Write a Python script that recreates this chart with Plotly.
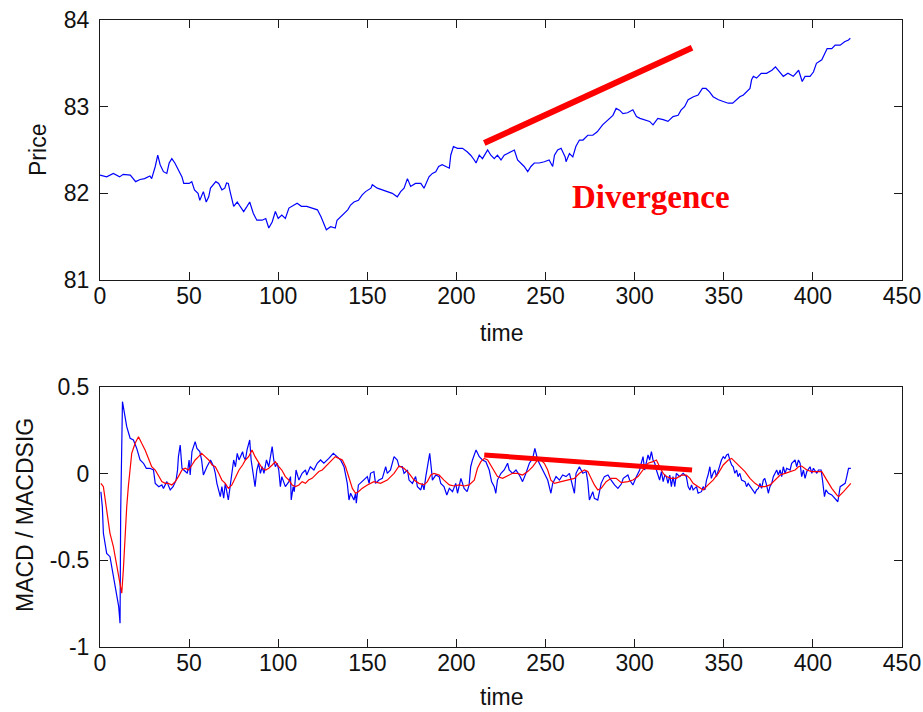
import plotly.graph_objects as go

# ---------------- data ----------------
# closing price, sampled as (time, price)
price_points = [
    (0, 82.21), (3.75, 82.19), (7.5, 82.23), (11, 82.19), (13, 82.22), (17, 82.21),
    (20, 82.135), (22.5, 82.16), (25, 82.17), (28, 82.2), (29, 82.17), (31, 82.31),
    (32.4, 82.44), (33.75, 82.33), (35.6, 82.25), (37.5, 82.23), (38.8, 82.35),
    (40.3, 82.40), (42, 82.35), (44, 82.27), (46, 82.19), (47, 82.115), (50, 82.115),
    (51.5, 82.135), (53, 82.04), (55, 82.0), (56, 81.92), (58, 82.02), (59.6, 81.90),
    (61, 81.96), (62, 82.06), (65, 82.135), (66.6, 82.115), (68.4, 82.04), (70, 82.06),
    (71, 82.12), (72, 82.115), (73, 82.02), (75, 81.85), (77, 81.90), (78.75, 81.85),
    (80.6, 81.79), (82.5, 81.85), (84, 81.90), (86, 81.77), (88, 81.69), (91, 81.69),
    (93, 81.71), (94.7, 81.60), (96.6, 81.67), (98.4, 81.79), (100, 81.71), (102, 81.75),
    (104, 81.71), (106, 81.83), (108, 81.85), (110.6, 81.885), (113, 81.85), (116, 81.85),
    (119, 81.83), (122, 81.81), (124, 81.73), (125.6, 81.65), (127, 81.58), (129.4, 81.615),
    (132, 81.60), (133, 81.69), (136, 81.75), (139, 81.81), (140.6, 81.865), (142.5, 81.90),
    (145, 81.92), (147, 81.98), (149, 82.02), (152, 82.06), (152.8, 82.10), (155.6, 82.06),
    (158.4, 82.04), (161, 82.02), (164, 82.0), (166.8, 81.96), (168.7, 82.02), (170.6, 82.06),
    (172.5, 82.17), (174.3, 82.08), (177, 82.115), (180, 82.115), (181.8, 82.06),
    (184.6, 82.19), (186.5, 82.23), (188.4, 82.25), (190, 82.31), (192, 82.33), (194, 82.31),
    (196, 82.29), (196.8, 82.44), (198.3, 82.54), (200.6, 82.52), (203.4, 82.52),
    (206, 82.48), (208, 82.44), (210, 82.385), (211, 82.35), (212.8, 82.44), (214.6, 82.40),
    (217.5, 82.5), (219.3, 82.44), (221.2, 82.40), (223, 82.44), (225, 82.385),
    (226.8, 82.44), (228.7, 82.46), (230.6, 82.48), (232.5, 82.5), (234.3, 82.385),
    (236, 82.35), (238, 82.31), (240, 82.25), (241.8, 82.31), (243.7, 82.35), (246.5, 82.35),
    (249.3, 82.365), (252, 82.385), (254, 82.31), (255, 82.44), (256.8, 82.5), (258.7, 82.52),
    (261, 82.42), (261.5, 82.365), (263.4, 82.46), (265.3, 82.42), (267, 82.54), (269, 82.615),
    (271, 82.615), (273.7, 82.67), (276.5, 82.67), (279, 82.71), (282, 82.79), (285, 82.85),
    (287.8, 82.90), (289.6, 82.98), (291.5, 82.96), (293.4, 82.92), (296, 82.93),
    (299, 82.965), (301, 82.885), (303, 82.865), (305.6, 82.85), (308.4, 82.83),
    (310.3, 82.79), (313, 82.865), (316, 82.85), (318.7, 82.83), (321.5, 82.885),
    (324.4, 82.90), (326, 82.96), (328, 83.0), (330, 83.08), (333, 83.115), (335.6, 83.135),
    (338, 83.21), (340, 83.21), (342, 83.17), (344, 83.115), (347, 83.08), (349.7, 83.06),
    (352.5, 83.04), (355, 83.04), (357, 83.08), (359, 83.115), (361, 83.135), (363, 83.17),
    (364.7, 83.21), (365.6, 83.31), (366.6, 83.35), (368.4, 83.33), (371, 83.385),
    (374, 83.385), (377, 83.42), (379, 83.46), (381.6, 83.40), (383.4, 83.35), (386, 83.385),
    (389, 83.35), (392, 83.42), (394, 83.29), (395.6, 83.35), (398.4, 83.35), (400.3, 83.40),
    (402, 83.5), (405, 83.54), (408, 83.67), (410.6, 83.67), (412.5, 83.71), (415.3, 83.71),
    (417.8, 83.75), (420, 83.77), (421, 83.79),
]

# MACD line, sampled as (time, value)
macd_points = [
    (0.5, -0.104), (1.3, -0.190), (1.9, -0.344), (3.75, -0.460), (5.6, -0.479), (6.6, -0.537),
    (8.4, -0.652), (9.75, -0.729), (10.5, -0.767), (11.25, -0.863), (11.6, -0.229),
    (12.6, 0.415), (13.1, 0.387), (15, 0.271), (16.9, 0.204), (18.75, 0.194), (20.6, 0.146),
    (22.5, 0.079), (24.4, 0.060), (26, 0.031), (28, 0.031), (30, 0.021), (31, -0.056),
    (33, -0.075), (34.7, -0.065), (35.6, -0.085), (37.5, -0.046), (39.4, -0.094),
    (41, -0.075), (42.7, -0.037), (43.5, 0.021), (44, 0.098), (45, 0.165), (46, 0.031),
    (47, 0.021), (49, 0.002), (50, 0.079), (50.6, -0.008), (51.6, 0.127), (52.5, 0.156),
    (53.4, 0.185), (54.4, 0.146), (56, 0.127), (57, 0.079), (58, -0.008), (60, 0.040),
    (62, 0.079), (63.8, 0.040), (64.7, 0.002), (65.6, -0.056), (66.6, -0.094),
    (67.5, -0.133), (68.4, -0.075), (69.4, -0.142), (70.3, -0.056), (71, -0.094),
    (72, -0.152), (73, -0.075), (74, 0.021), (75, 0.079), (76, 0.040), (77, 0.117),
    (78, 0.079), (80, 0.127), (80.6, 0.098), (81.6, 0.079), (82.5, 0.137), (84, 0.194),
    (84.8, 0.079), (85.7, 0.002), (87, -0.075), (88, 0.021), (89, 0.060), (90, 0.002),
    (91, 0.040), (92, 0.002), (93.4, 0.079), (94.7, 0.040), (95.6, 0.098), (96.6, 0.156),
    (97.5, 0.079), (98.4, 0.040), (99.4, 0.060), (100.3, 0.021), (101.2, -0.075),
    (102, -0.017), (104, -0.075), (106, -0.046), (106.9, -0.017), (107.3, -0.152),
    (108.4, -0.075), (109, -0.104), (110, 0.021), (111.6, -0.037), (113.4, 0.002),
    (115.3, 0.021), (116, -0.008), (118, 0.040), (120, 0.021), (121.9, 0.060),
    (123.75, 0.079), (125.6, 0.060), (128.4, 0.088), (130.9, 0.117), (133, 0.098),
    (135, 0.079), (136.9, 0.040), (138.75, -0.056), (139.7, -0.152), (140.6, -0.113),
    (142.5, -0.152), (143.4, -0.113), (143.8, -0.171), (145, -0.065), (147, -0.046),
    (149, -0.027), (150, -0.017), (151, -0.056), (151.8, 0.002), (153.7, 0.012),
    (154.6, -0.056), (156.5, -0.037), (158.4, -0.027), (160.3, 0.040), (161.2, 0.002),
    (163, 0.021), (165, 0.098), (166.8, 0.079), (167.8, 0.040), (169.6, 0.040),
    (170.6, 0.002), (172.5, 0.021), (173.4, -0.037), (175.3, -0.056), (177.1, -0.017),
    (178.1, -0.075), (180, -0.094), (180.9, -0.056), (181.8, -0.094), (182.8, -0.017),
    (183.7, 0.040), (185, 0.117), (186, 0.021), (186.5, -0.037), (188.4, -0.008),
    (190.3, -0.017), (191.2, -0.056), (193, -0.075), (194.6, -0.123), (196, -0.085),
    (197.8, -0.104), (199.6, -0.056), (200.6, -0.113), (202.5, -0.027), (204.3, -0.085),
    (206, -0.104), (207.1, -0.065), (208, 0.040), (209, 0.079), (210, 0.108), (211, 0.137),
    (212.8, 0.098), (214.6, 0.079), (216.5, 0.069), (218.4, 0.021), (219.7, -0.046),
    (221.2, -0.075), (222.1, -0.113), (223, -0.037), (225, 0.002), (226.8, 0.021),
    (228.7, 0.060), (229.6, 0.021), (231.5, 0.002), (233.4, 0.021), (235.3, -0.008),
    (237.1, -0.046), (239, 0.002), (240.9, 0.060), (242.8, 0.088), (244, 0.146),
    (245.6, 0.079), (247.4, 0.040), (249.3, 0.002), (251.2, -0.037), (253, -0.113),
    (254, -0.056), (255.9, -0.017), (257.8, -0.037), (259.6, -0.008), (261.5, -0.017),
    (263.4, 0.002), (264.3, -0.037), (266.2, -0.113), (267.1, 0.002), (269, 0.040),
    (270.9, 0.002), (272.8, 0.012), (273.7, -0.046), (274.6, -0.152), (276.5, -0.104),
    (277.4, -0.142), (279.3, -0.152), (281.2, -0.056), (283, -0.017), (285, -0.008),
    (286.8, -0.037), (288.7, -0.065), (290.6, -0.085), (292.5, -0.060), (293.6, -0.027),
    (296.2, -0.008), (297.2, -0.037), (299, -0.065), (301, -0.017), (302.8, 0.021),
    (303.7, 0.060), (304.7, 0.098), (305.6, 0.021), (306.6, 0.079), (307.5, 0.108),
    (308.4, 0.079), (309.4, 0.127), (310.3, 0.079), (311.3, 0.060), (312.2, 0.021),
    (313.1, -0.017), (314, -0.037), (315, 0.012), (316, -0.046), (316.9, -0.008),
    (317.8, -0.017), (318.7, -0.056), (319.7, -0.008), (320.6, -0.075), (321.5, -0.017),
    (322.5, -0.075), (323.4, 0.002), (325.3, -0.017), (327.2, 0.002), (329, -0.017),
    (330, -0.075), (331, -0.094), (331.9, -0.065), (332.8, -0.094), (334.7, -0.075),
    (335.6, -0.113), (337.5, -0.104), (338.4, -0.075), (339.4, -0.094), (340.3, -0.037),
    (341.2, -0.008), (342.2, 0.040), (343, -0.027), (344, 0.002), (345, 0.021),
    (345.9, -0.017), (346.9, 0.021), (347.8, 0.060), (348.7, 0.079), (349.7, 0.098),
    (350.6, 0.088), (351.6, 0.108), (352.5, 0.113), (353.4, 0.079), (354.4, 0.050),
    (355.3, 0.040), (356.2, 0.002), (357.2, 0.021), (358, -0.017), (359, 0.002),
    (360, -0.037), (361.9, -0.046), (362.8, -0.075), (363.7, -0.056), (365.6, -0.085),
    (367.5, -0.113), (368.4, -0.094), (369.4, -0.085), (370.3, -0.056), (371.2, -0.085),
    (372.2, -0.037), (373, -0.027), (374, -0.065), (375, -0.113), (375.9, -0.075),
    (376.9, -0.056), (377.8, -0.017), (378.7, 0.002), (379.7, 0.021), (380.6, -0.008),
    (381.6, 0.021), (382.5, -0.017), (383.4, 0.040), (384.4, 0.002), (385.3, 0.031),
    (387.2, 0.021), (388.1, 0.060), (390, 0.079), (390.9, 0.040), (391.9, 0.079),
    (392.8, 0.060), (393.7, -0.017), (394.7, 0.021), (395.6, -0.027), (396.6, 0.012),
    (398.4, 0.040), (399.4, 0.002), (400.3, 0.031), (402.2, 0.002), (403.1, 0.021),
    (404.6, 0.021), (405.4, -0.037), (406.5, -0.133), (407.3, -0.094), (408.7, -0.113),
    (410.6, -0.123), (412.5, -0.142), (414, -0.162), (415.3, -0.075), (417.2, -0.065),
    (418.1, -0.056), (419, -0.017), (420, 0.031), (421.3, 0.031),
]

# signal line (MACDSIG), sampled as (time, value)
signal_points = [
    (0.5, -0.056), (1.9, -0.075), (3.75, -0.210), (5.6, -0.344), (7.5, -0.421), (9.4, -0.537),
    (11.25, -0.652), (12.2, -0.690), (13.1, -0.556), (14, -0.344), (15, -0.190),
    (15.9, -0.075), (16.9, 0.040), (17.8, 0.117), (19.7, 0.175), (21.6, 0.213),
    (23.4, 0.175), (25.3, 0.137), (27.2, 0.088), (29, 0.040), (31, 0.021), (33, -0.017),
    (34.7, -0.046), (36.6, -0.056), (38.4, -0.056), (40.3, -0.065), (42.2, -0.046),
    (44, -0.017), (46, 0.021), (47.8, 0.031), (49.7, 0.021), (51.6, 0.050), (53.4, 0.079),
    (55.3, 0.098), (57, 0.117), (59, 0.098), (61, 0.079), (62.9, 0.050), (64.7, 0.040),
    (66.6, 0.002), (68.4, -0.037), (70.3, -0.056), (72, -0.085), (74, -0.065), (76, -0.017),
    (78, 0.021), (80, 0.050), (81.6, 0.079), (83.4, 0.098), (85.3, 0.137), (87, 0.098),
    (89, 0.060), (91, 0.031), (93, 0.021), (94.7, 0.031), (96.6, 0.050), (98.4, 0.069),
    (100.3, 0.040), (102, 0.021), (104, -0.017), (106, -0.037), (107.8, -0.065),
    (109.7, -0.075), (111.6, -0.065), (113.4, -0.046), (115.3, -0.056), (117, -0.037),
    (119, -0.027), (120.9, -0.008), (122.8, 0.012), (124.7, 0.021), (126.6, 0.040),
    (128.4, 0.060), (130.3, 0.079), (132, 0.098), (134, 0.088), (136, 0.079), (137.8, 0.040),
    (139.7, -0.017), (141.6, -0.085), (143.4, -0.113), (145, -0.104), (147, -0.085),
    (150, -0.065), (153.7, -0.046), (157.4, -0.056), (161.2, -0.037), (165, 0.002),
    (167.8, 0.044), (170.6, 0.031), (173.4, 0.002), (176.2, -0.037), (179, -0.056),
    (181.8, -0.065), (183.7, -0.046), (185.6, -0.008), (187.4, 0.002), (190.3, -0.008),
    (193, -0.037), (196, -0.065), (198.7, -0.071), (201.5, -0.065), (204.3, -0.071),
    (207.1, -0.065), (210, -0.037), (211.8, 0.031), (213.7, 0.069), (215.6, 0.088),
    (217.5, 0.079), (219.3, 0.050), (221.2, 0.012), (223, -0.017), (225.9, -0.027),
    (228.7, -0.013), (231.5, 0.002), (234.3, 0.002), (237.1, -0.008), (240, 0.012),
    (242.8, 0.040), (245.6, 0.079), (247.4, 0.079), (249.3, 0.060), (251.2, 0.021),
    (253, -0.037), (255, -0.056), (258.7, -0.046), (262.4, -0.037), (266.2, -0.027),
    (269, 0.002), (271.8, 0.021), (273.7, 0.012), (275.6, -0.027), (277.4, -0.065),
    (279.3, -0.094), (281.2, -0.085), (284, -0.046), (286.8, -0.027), (289.6, -0.027),
    (292.5, -0.052), (296.2, -0.046), (299, -0.037), (301.9, -0.017), (304.7, 0.021),
    (307.5, 0.060), (310.3, 0.069), (312.2, 0.079), (314, 0.040), (316, 0.002),
    (317.8, -0.017), (320.6, -0.027), (323.4, -0.027), (326.2, -0.008), (329, -0.008),
    (331, -0.027), (332.8, -0.056), (335.6, -0.075), (338.4, -0.094), (341.2, -0.065),
    (344, -0.037), (346.9, 0.002), (349.7, 0.050), (352.5, 0.079), (354.4, 0.088),
    (356.2, 0.069), (359, 0.040), (361.9, 0.012), (364.7, -0.027), (367.5, -0.056),
    (370.3, -0.075), (373, -0.075), (376, -0.065), (378.7, -0.037), (381.6, -0.008),
    (384.4, 0.002), (387.2, 0.012), (390, 0.021), (391.9, 0.040), (393.7, 0.044),
    (396.6, 0.021), (399.4, 0.012), (402.2, 0.012), (405, 0.012), (407.8, -0.037),
    (410.6, -0.085), (413.4, -0.123), (414.4, -0.133), (417.2, -0.104), (419, -0.085),
    (421.3, -0.056),
]

# trend lines showing the divergence between price and MACD peaks
div_t = [215.6, 332.2]
div_price = [82.58, 83.68]
div_macd = [0.108, 0.021]

x_ticks = [0, 50, 100, 150, 200, 250, 300, 350, 400, 450]
price_ticks = [81, 82, 83, 84]
macd_ticks = [-1, -0.5, 0, 0.5]
macd_tick_text = ["-1", "-0.5", "0", "0.5"]


def unzip(points):
    return [p[0] for p in points], [p[1] for p in points]


price_t, price_v = unzip(price_points)
macd_t, macd_v = unzip(macd_points)
sig_t, sig_v = unzip(signal_points)

# ---------------- figure ----------------
BLUE = "#0000FF"
RED = "#FF0000"
SANS = "Liberation Sans, Arial, Helvetica, sans-serif"

fig = go.Figure()

fig.add_trace(go.Scatter(x=price_t, y=price_v, mode="lines",
                         line=dict(color=BLUE, width=1.2),
                         xaxis="x", yaxis="y", showlegend=False))
fig.add_trace(go.Scatter(x=div_t, y=div_price, mode="lines",
                         line=dict(color=RED, width=6),
                         xaxis="x", yaxis="y", showlegend=False))

fig.add_trace(go.Scatter(x=macd_t, y=macd_v, mode="lines",
                         line=dict(color=BLUE, width=1.2),
                         xaxis="x2", yaxis="y2", showlegend=False))
fig.add_trace(go.Scatter(x=sig_t, y=sig_v, mode="lines",
                         line=dict(color=RED, width=1.2),
                         xaxis="x2", yaxis="y2", showlegend=False))
fig.add_trace(go.Scatter(x=div_t, y=div_macd, mode="lines",
                         line=dict(color=RED, width=5),
                         xaxis="x2", yaxis="y2", showlegend=False))

axis_common = dict(
    showgrid=False, zeroline=False, showline=True, linecolor="#1a1a1a", linewidth=1,
    mirror="allticks", ticks="inside", ticklen=8, tickwidth=1, tickcolor="#1a1a1a",
    tickfont=dict(family=SANS, size=23, color="#111"), automargin=False,
)

fig.update_layout(
    width=923, height=712,
    margin=dict(l=100, r=21, t=20, b=65),
    paper_bgcolor="white", plot_bgcolor="white",
    xaxis=dict(axis_common, domain=[0, 1], range=[0, 450], tickvals=x_ticks,
               anchor="y", ticklabelstandoff=-5),
    yaxis=dict(axis_common, domain=[0.5853, 1.0], range=[81, 84], tickvals=price_ticks,
               anchor="x", ticklabelstandoff=5),
    xaxis2=dict(axis_common, domain=[0, 1], range=[0, 450], tickvals=x_ticks,
                anchor="y2", ticklabelstandoff=-5),
    yaxis2=dict(axis_common, domain=[0, 0.4147], range=[-1, 0.5], tickvals=macd_ticks,
                ticktext=macd_tick_text, anchor="x2", ticklabelstandoff=5),
)

label_font = dict(family=SANS, size=23, color="#111")
fig.add_annotation(text="Price", xref="paper", yref="paper", x=-0.0773, y=0.7927,
                   textangle=-90, showarrow=False, font=label_font,
                   xanchor="center", yanchor="middle")
fig.add_annotation(text="MACD / MACDSIG", xref="paper", yref="paper", x=-0.0935, y=0.2105,
                   textangle=-90, showarrow=False, font=label_font,
                   xanchor="center", yanchor="middle")
fig.add_annotation(text="time", xref="paper", yref="paper", x=0.5, y=0.5005,
                   showarrow=False, font=label_font, xanchor="center", yanchor="middle")
fig.add_annotation(text="time", xref="paper", yref="paper", x=0.5, y=-0.0797,
                   showarrow=False, font=label_font, xanchor="center", yanchor="middle")

fig.add_annotation(text="<b>Divergence</b>", x=309, y=81.96, xref="x", yref="y",
                   showarrow=False, xanchor="center", yanchor="middle",
                   font=dict(family="Liberation Serif, Times New Roman, serif",
                             size=33, color=RED))

fig.write_html("out.html")
